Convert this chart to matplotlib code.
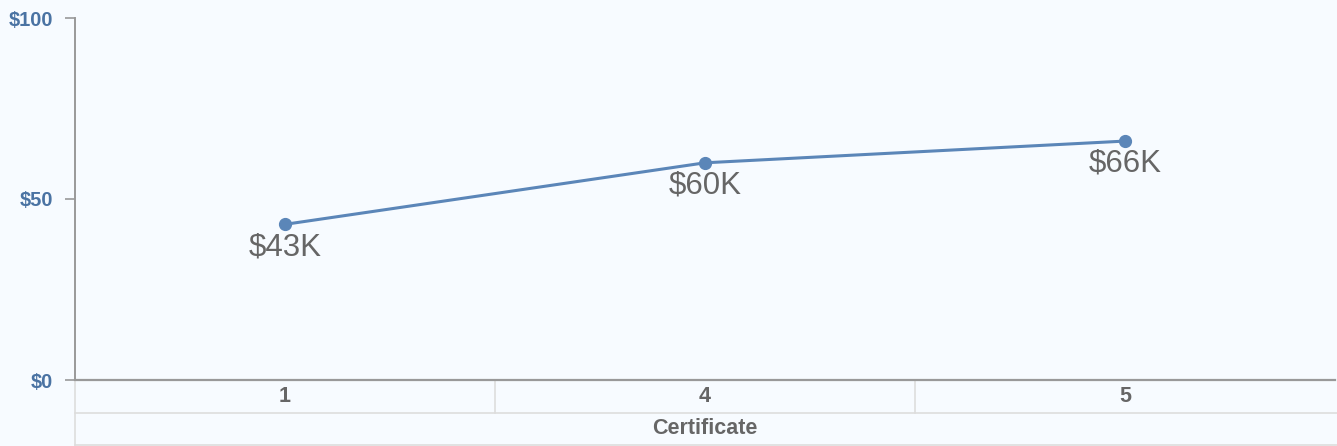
import matplotlib
matplotlib.use("Agg")
import matplotlib.pyplot as plt
import matplotlib.transforms as mtransforms

categories = ["1", "4", "5"]
values = [43, 60, 66]
labels = ["$43K", "$60K", "$66K"]
yticks = [0, 50, 100]
ytick_labels = ["$0", "$50", "$100"]
axis_title = "Certificate"

W, H = 1337, 446
fig = plt.figure(figsize=(W / 100, H / 100), dpi=100)
bg = "#f7fbff"
fig.patch.set_facecolor(bg)

left, right, top, bottom = 75, 1335, 18, 380
ax = fig.add_axes([left / W, 1 - bottom / H, (right - left) / W, (bottom - top) / H])
ax.set_facecolor(bg)

x = list(range(len(categories)))
line_color = "#5b86b8"
ax.plot(x, values, color=line_color, lw=2.2, marker="o", ms=8.5, zorder=3)
for xi, v, lab in zip(x, values, labels):
    ax.annotate(lab, (xi, v), xytext=(0, -16.5), textcoords="offset points",
                ha="center", va="center", fontsize=22.5, color="#666666",
                family="Liberation Sans")

ax.set_xlim(-0.5, len(categories) - 0.5)
ax.set_ylim(0, 100)
ax.set_yticks(yticks)
ax.set_yticklabels(ytick_labels, fontsize=14.5, fontweight="bold", color="#4a73a3",
                   family="Liberation Sans")
ax.tick_params(axis="y", length=7, width=1.2, color="#999999", pad=9)
ax.set_xticks([])
for s in ["top", "right"]:
    ax.spines[s].set_visible(False)
ax.spines["left"].set_color("#999999")
ax.spines["left"].set_linewidth(1.4)
ax.spines["bottom"].set_color("#999999")
ax.spines["bottom"].set_linewidth(1.6)

# table below
trans = mtransforms.blended_transform_factory(ax.transData, ax.transAxes)
ph = bottom - top
r1 = -33 / ph
r2 = -65 / ph
tc = "#dddddd"
x0, x1 = -0.5, len(categories) - 0.5
ax.plot([x0, x0], [0, r2], transform=trans, color=tc, lw=1.2, clip_on=False)
ax.plot([x0, x1 + 0.01], [r1, r1], transform=trans, color=tc, lw=1.2, clip_on=False)
ax.plot([x0, x1 + 0.01], [r2, r2], transform=trans, color=tc, lw=1.2, clip_on=False)
for i in range(1, len(categories)):
    ax.plot([i - 0.5, i - 0.5], [0, r1], transform=trans, color=tc, lw=1.2, clip_on=False)
for xi, c in zip(x, categories):
    ax.text(xi, r1 / 2, c, transform=trans, ha="center", va="center", fontsize=15.5,
            fontweight="bold", color="#666666", family="Liberation Sans")
ax.text(len(categories) / 2 - 0.5, (r1 + r2) / 2, axis_title, transform=trans,
        ha="center", va="center", fontsize=15.5, fontweight="bold", color="#666666",
        family="Liberation Sans")

fig.savefig("out.png", dpi=100, facecolor=bg)
